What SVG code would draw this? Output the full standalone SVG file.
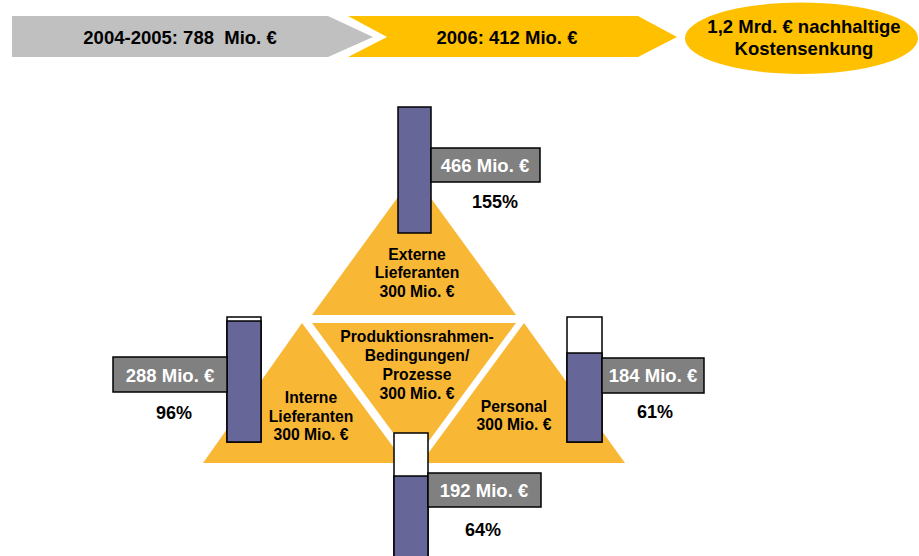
<svg xmlns="http://www.w3.org/2000/svg" width="919" height="556" viewBox="0 0 919 556">
<style>
text{font-family:"Liberation Sans",Arial,sans-serif;font-weight:bold;text-anchor:middle}
.big{font-size:18.5px;fill:#000}
.tri{fill:#F8B836}
.tl{font-size:15.7px;fill:#000}
.bar{fill:#666699;stroke:#000;stroke-width:1.5}
.empty{fill:#fff;stroke:#000;stroke-width:1.5}
.lbl{fill:#808080;stroke:#000;stroke-width:1.5}
.lt{font-size:18.5px;fill:#fff}
.pct{font-size:18px;fill:#000}
</style>
<g id="phase1">
<polygon points="12,16 328,16 373,37 328,57 12,57" fill="#C0C0C0"/>
<text class="big" x="180" y="44" xml:space="preserve">2004-2005: 788  Mio. €</text>
</g>
<g id="phase2">
<polygon points="348,16 638,16 677,37 638,57 348,57 387,37" fill="#FFC000"/>
<text class="big" x="507" y="44">2006: 412 Mio. €</text>
</g>
<g id="goal">
<ellipse cx="801.5" cy="38.3" rx="116.5" ry="35.7" fill="#FFC000"/>
<text class="big" x="804" y="33">1,2 Mrd. € nachhaltige</text>
<text class="big" x="804" y="55">Kostensenkung</text>
</g>
<g id="externe">
<polygon class="tri" points="414,175 516,315 312,315"/>
<text class="tl" x="417" y="260">Externe</text>
<text class="tl" x="417" y="278">Lieferanten</text>
<text class="tl" x="417" y="297">300 Mio. €</text>
</g>
<g id="prozesse">
<polygon class="tri" points="312,323 516,323 414,461"/>
<text class="tl" x="417" y="342">Produktionsrahmen-</text>
<text class="tl" x="417" y="361">Bedingungen/</text>
<text class="tl" x="417" y="380">Prozesse</text>
<text class="tl" x="417" y="399">300 Mio. €</text>
</g>
<g id="interne">
<polygon class="tri" points="302,323 405,463 203,463"/>
<text class="tl" x="311" y="403">Interne</text>
<text class="tl" x="311" y="422">Lieferanten</text>
<text class="tl" x="311" y="440">300 Mio. €</text>
</g>
<g id="personal">
<polygon class="tri" points="524,323 625,463 421,463"/>
<text class="tl" x="514" y="412">Personal</text>
<text class="tl" x="514" y="430">300 Mio. €</text>
</g>
<g id="bar-externe">
<rect class="bar" x="398" y="107" width="33" height="126"/>
<rect class="lbl" x="431" y="148" width="109" height="34"/>
<text class="lt" x="485" y="172">466 Mio. €</text>
<text class="pct" x="495" y="208">155%</text>
</g>
<g id="bar-interne">
<rect class="empty" x="227" y="317" width="34" height="125"/>
<rect class="bar" x="227" y="321" width="34" height="121"/>
<rect class="lbl" x="113" y="357" width="114" height="35"/>
<text class="lt" x="170" y="382">288 Mio. €</text>
<text class="pct" x="174" y="419">96%</text>
</g>
<g id="bar-personal">
<rect class="empty" x="567" y="317" width="35" height="125"/>
<rect class="bar" x="567" y="353" width="35" height="89"/>
<rect class="lbl" x="602" y="358" width="102" height="35"/>
<text class="lt" x="653" y="382">184 Mio. €</text>
<text class="pct" x="655" y="418">61%</text>
</g>
<g id="bar-prozesse">
<rect class="empty" x="394" y="433" width="34" height="130"/>
<rect class="bar" x="394" y="476" width="34" height="87"/>
<rect class="lbl" x="428" y="473" width="113" height="34"/>
<text class="lt" x="484" y="497">192 Mio. €</text>
<text class="pct" x="483" y="536">64%</text>
</g>
<g id="connectors"/>
</svg>
